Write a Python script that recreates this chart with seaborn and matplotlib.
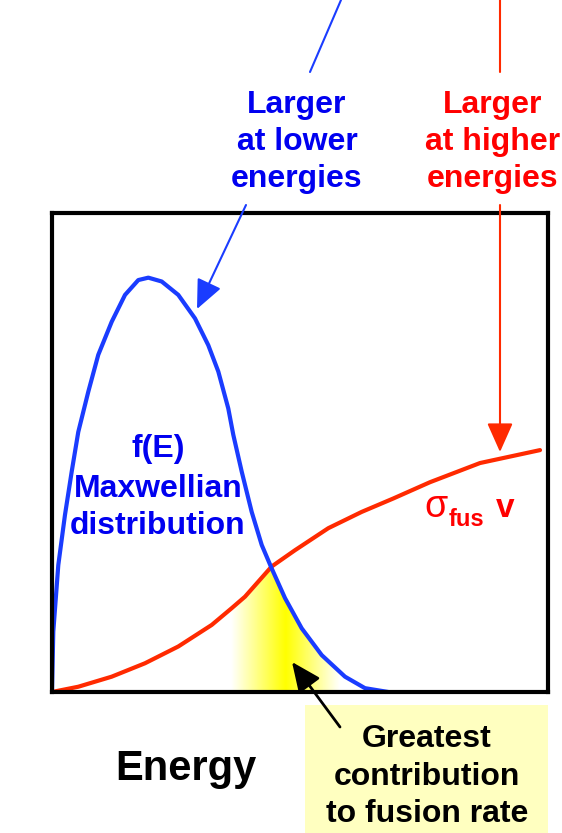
import numpy as np
import pandas as pd
import seaborn as sns
import matplotlib.pyplot as plt
from matplotlib.colors import LinearSegmentedColormap
from matplotlib.patches import Polygon, Rectangle
from matplotlib.lines import Line2D

# Maxwellian f(E) (energy 0-10, height 0-1)
maxwell_E = [0.0, 0.026, 0.127, 0.262, 0.397, 0.530, 0.732, 0.933, 1.204, 1.472,
             1.740, 1.942, 2.212, 2.546, 2.883, 3.151, 3.353, 3.554, 3.655, 3.825,
             4.026, 4.228, 4.429, 4.698, 5.034, 5.438, 5.907, 6.310, 6.780]
maxwell_f = [0.0, 0.126, 0.265, 0.370, 0.460, 0.543, 0.627, 0.704, 0.773, 0.829,
             0.860, 0.865, 0.857, 0.829, 0.780, 0.724, 0.669, 0.592, 0.537, 0.460,
             0.376, 0.307, 0.258, 0.196, 0.133, 0.077, 0.032, 0.008, 0.0]

# sigma_fus * v
sigv_E = [0.0, 0.530, 1.204, 1.875, 2.546, 3.220, 3.623, 3.891, 4.429, 4.899,
          5.571, 6.244, 6.881, 7.621, 8.629, 9.839]
sigv_f = [0.0, 0.011, 0.032, 0.060, 0.095, 0.140, 0.175, 0.199, 0.262, 0.296,
          0.342, 0.376, 0.404, 0.438, 0.478, 0.505]

BLUE_LINE = '#1a3cff'
BLUE_TEXT = '#0000f0'
RED_LINE = '#ff2a00'
RED_TEXT = '#ff0000'

sns.set_style('white')
plt.rcParams['font.family'] = ['Liberation Sans', 'DejaVu Sans']

W, H = 562, 833
fig = plt.figure(figsize=(W / 100, H / 100), dpi=100)


def fx(x):
    return x / W


def fy(y):
    return 1 - y / H


ax = fig.add_axes([fx(52), fy(692), (548 - 52) / W, (692 - 213) / H])

df_max = pd.DataFrame({'E': maxwell_E, 'f': maxwell_f})
df_sig = pd.DataFrame({'E': sigv_E, 'f': sigv_f})

# yellow glow where both curves overlap (under the lower of the two)
E_m = np.array(maxwell_E)
f_m = np.array(maxwell_f)
E_s = np.array(sigv_E)
f_s = np.array(sigv_f)
left = (E_s >= 3.2) & (E_s < 4.42)
right = E_m >= 4.42
verts = list(zip(E_s[left], f_s[left])) + list(zip(E_m[right], f_m[right]))
verts += [(E_m[right][-1], 0.0), (E_s[left][0], 0.0)]
poly = Polygon(verts, closed=True, facecolor='none', edgecolor='none')
ax.add_patch(poly)

x0, x1 = 3.2, 6.8
glow = LinearSegmentedColormap.from_list('glow', [
    (0.0, 'white'), ((3.6 - x0) / (x1 - x0), 'white'),
    ((4.7 - x0) / (x1 - x0), '#ffff00'),
    ((5.8 - x0) / (x1 - x0), 'white'), (1.0, 'white')])
grad = np.linspace(0, 1, 400)[None, :]
im = ax.imshow(grad, cmap=glow, extent=[x0, x1, 0, 0.35], aspect='auto',
               origin='lower', zorder=1)
im.set_clip_path(poly)

sns.lineplot(data=df_sig, x='E', y='f', color=RED_LINE, lw=3, ax=ax,
             sort=False, zorder=3, solid_joinstyle='round')
sns.lineplot(data=df_max, x='E', y='f', color=BLUE_LINE, lw=3, ax=ax,
             sort=False, zorder=3, solid_joinstyle='round')

ax.set_xlim(0, 10)
ax.set_ylim(0, 1)
ax.set_xticks([])
ax.set_yticks([])
ax.set_xlabel('')
ax.set_ylabel('')
for s in ax.spines.values():
    s.set_linewidth(3)
    s.set_color('black')
    s.set_zorder(5)

# yellow note box
fig.add_artist(Rectangle((fx(305), fy(833)), (548 - 305) / W, (833 - 705) / H,
                         transform=fig.transFigure, facecolor='#ffffc0',
                         edgecolor='none', zorder=0))


def lines(x, baselines, strings, color, size=23):
    for b, s in zip(baselines, strings):
        fig.text(fx(x), fy(b), s, ha='center', va='baseline', color=color,
                 fontsize=size, fontweight='bold')


lines(297, [113, 150, 187], ['Larger', 'at lower', 'energies'], BLUE_TEXT)
lines(493, [113, 150, 187], ['Larger', 'at higher', 'energies'], RED_TEXT)
lines(158, [457, 497, 534], ['f(E)', 'Maxwellian', 'distribution'], BLUE_TEXT)
lines(427, [747, 785, 822], ['Greatest', 'contribution', 'to fusion rate'], 'black')
lines(186, [780], ['Energy'], 'black', size=30)

# sigma_fus v
fig.text(fx(436), fy(517), '\u03c3', ha='center', va='baseline', color=RED_TEXT,
         fontsize=27)
fig.text(fx(466), fy(526), 'fus', ha='center', va='baseline', color=RED_TEXT,
         fontsize=17, fontweight='bold')
fig.text(fx(505), fy(517), 'v', ha='center', va='baseline', color=RED_TEXT,
         fontsize=24, fontweight='bold')

# pointer lines and arrows
fig.add_artist(Line2D([fx(341), fx(310)], [fy(0), fy(72)], color=BLUE_LINE, lw=1.5,
                      transform=fig.transFigure))
fig.add_artist(Line2D([fx(500), fx(500)], [fy(0), fy(72)], color=RED_LINE, lw=1.5,
                      transform=fig.transFigure))


def arrow(tail, tip, color, lw=1.5):
    ax.annotate('', xy=(fx(tip[0]), fy(tip[1])), xycoords='figure fraction',
                xytext=(fx(tail[0]), fy(tail[1])), textcoords='figure fraction',
                arrowprops=dict(arrowstyle='-|>,head_length=0.9,head_width=0.4',
                                mutation_scale=20, color=color, lw=lw,
                                shrinkA=0, shrinkB=0),
                annotation_clip=False, zorder=6)


arrow((246, 205), (197, 309), BLUE_LINE)
arrow((500, 205), (500, 452), RED_LINE)
arrow((340, 727), (292, 662), 'black', lw=2)

fig.savefig('out.png', dpi=100)
